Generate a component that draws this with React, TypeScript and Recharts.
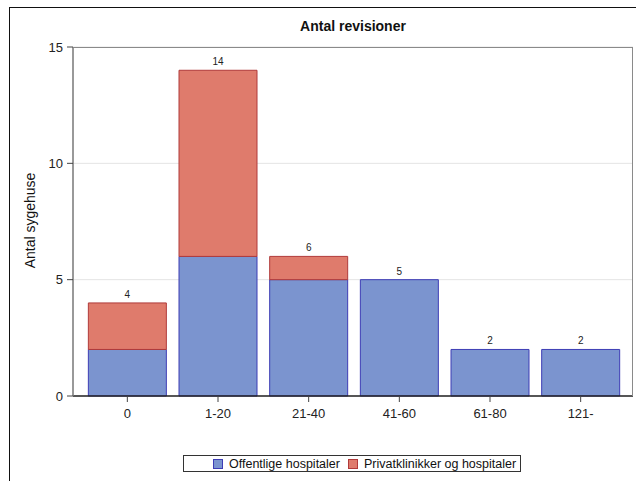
import { BarChart, Bar, XAxis, YAxis, CartesianGrid, Legend, LabelList } from "recharts";

const categories = ["0", "1-20", "21-40", "41-60", "61-80", "121-"];
const offentlige = [2, 6, 5, 5, 2, 2];
const private_ = [2, 8, 1, 0, 0, 0];
const yTicks = [0, 5, 10, 15];

const BLUE = "#7b94cf";
const BLUE_EDGE = "#3d3db5";
const RED = "#df7b6c";
const RED_EDGE = "#b03a3a";
const FONT = "'Liberation Sans', Arial, sans-serif";

const data = categories.map((cat, i) => ({
  cat,
  offentlige: offentlige[i],
  privat: private_[i],
  total: offentlige[i] + private_[i],
}));

const legendItems = [
  { label: "Offentlige hospitaler", fill: BLUE, edge: BLUE_EDGE },
  { label: "Privatklinikker og hospitaler", fill: RED, edge: RED_EDGE },
];

const LegendBox = () => (
  <div
    style={{
      display: "flex",
      alignItems: "center",
      border: "1px solid #333",
      height: 17,
      paddingLeft: 29,
      paddingRight: 3,
      boxSizing: "border-box",
      fontFamily: FONT,
      fontSize: 12.5,
      color: "#111",
      background: "#fff",
    }}
  >
    {legendItems.map((it, i) => (
      <span key={i} style={{ display: "flex", alignItems: "center", marginRight: i === 0 ? 8 : 0 }}>
        <span
          style={{
            width: 8,
            height: 8,
            background: it.fill,
            border: `1px solid ${it.edge}`,
            marginRight: 6,
            display: "inline-block",
          }}
        />
        {it.label}
      </span>
    ))}
  </div>
);

const YLabel = ({ viewBox }: any) => {
  const x = 30;
  const y = viewBox.y + viewBox.height / 2 - 1;
  return (
    <text
      x={x}
      y={y}
      transform={`rotate(-90 ${x} ${y})`}
      textAnchor="middle"
      dominantBaseline="central"
      fontSize={14}
      fontFamily={FONT}
      fill="#111"
    >
      Antal sygehuse
    </text>
  );
};

// total label above the stack, positioned from the blue segment's own scale
const TotalLabel = (props: any) => {
  const { x, y, width, height, index } = props;
  const v = offentlige[index];
  const total = data[index].total;
  const top = y + height - (total * height) / v;
  return (
    <text x={x + width / 2} y={top - 5} textAnchor="middle" fontSize={10} fontFamily={FONT} fill="#222">
      {total}
    </text>
  );
};

export default function App() {
  return (
    <div style={{ position: "absolute", left: 0, top: 0, width: 639, height: 481, background: "#fff" }}>
      <div
        style={{
          position: "absolute",
          left: 9,
          top: 7,
          width: 626,
          height: 480,
          borderTop: "1.5px solid #111",
          borderLeft: "1.5px solid #111",
        }}
      />
      <div
        style={{
          position: "absolute",
          left: 73,
          width: 560,
          top: 18,
          textAlign: "center",
          fontFamily: FONT,
          fontWeight: "bold",
          fontSize: 14,
          color: "#111",
        }}
      >
        Antal revisioner
      </div>
      <BarChart
        width={639}
        height={481}
        data={data}
        margin={{ top: 47, right: 6, left: 33, bottom: 55 }}
        barCategoryGap="7%"
        style={{ position: "absolute", left: 0, top: 0 }}
      >
        <CartesianGrid vertical={false} stroke="#e4e4e4" />
        <XAxis
          dataKey="cat"
          padding={{ left: 9, right: 7 }}
          tickSize={6}
          tickMargin={7}
          height={30}
          axisLine={{ stroke: "#222", strokeWidth: 1.5 }}
          tickLine={{ stroke: "#444" }}
          tick={{ fill: "#222", fontSize: 13, fontFamily: FONT }}
        />
        <YAxis
          width={40}
          domain={[0, 15]}
          ticks={yTicks}
          tickSize={6}
          tickMargin={4}
          axisLine={{ stroke: "#777", strokeWidth: 1.5 }}
          tickLine={{ stroke: "#444" }}
          tick={{ fill: "#222", fontSize: 13, fontFamily: FONT }}
          label={<YLabel />}
        />
        <Bar dataKey="offentlige" stackId="a" fill={BLUE} stroke={BLUE_EDGE} strokeWidth={1} isAnimationActive={false}>
          <LabelList dataKey="total" content={<TotalLabel />} />
        </Bar>
        <Bar dataKey="privat" stackId="a" fill={RED} stroke={RED_EDGE} strokeWidth={1} isAnimationActive={false} />
        <Legend
          layout="horizontal"
          verticalAlign="middle"
          align="center"
          content={<LegendBox />}
          wrapperStyle={{ top: 455, left: 183, width: 338, height: 17 }}
        />
      </BarChart>
      <div
        style={{
          position: "absolute",
          left: 73,
          top: 47,
          width: 560,
          height: 349,
          boxSizing: "border-box",
          borderTop: "1.5px solid #8a8a8a",
          borderRight: "1.5px solid #8a8a8a",
          pointerEvents: "none",
        }}
      />
    </div>
  );
}
